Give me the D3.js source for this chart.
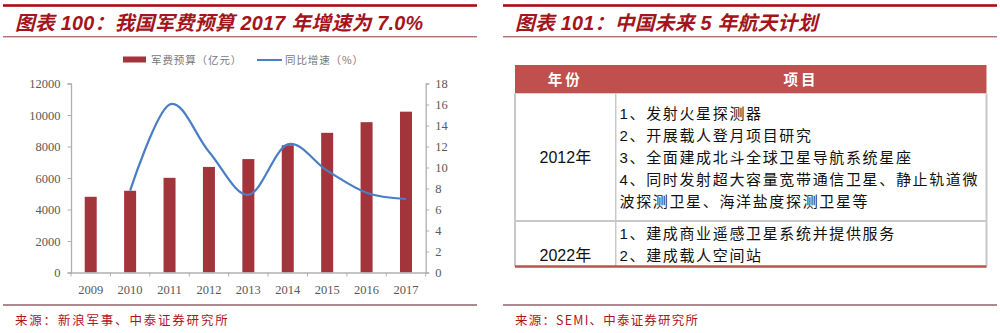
<!DOCTYPE html>
<html lang="zh-CN">
<head>
<meta charset="utf-8">
<script src="https://cdn.jsdelivr.net/npm/d3@7/dist/d3.min.js"></script>
<style>
  html, body { margin: 0; padding: 0; background: #fff; }
  svg { display: block; }
</style>
</head>
<body>
<svg id="page" width="1000" height="333" lang="zh-CN"></svg>
<script>
// ---- Data ----
const years = ["2009", "2010", "2011", "2012", "2013", "2014", "2015", "2016", "2017"];
const budget = [4807, 5190, 6011, 6703, 7202, 8082, 8869, 9544, 10211];      // 亿元
const growthYears = ["2010", "2011", "2012", "2013", "2014", "2015", "2016", "2017"];
const growth = [7.8, 16.0, 11.5, 7.4, 12.2, 9.7, 7.6, 7.0];                  // %
const leftTicks = [0, 2000, 4000, 6000, 8000, 10000, 12000];
const rightTicks = [0, 2, 4, 6, 8, 10, 12, 14, 16, 18];

const planYears = ["2012年", "2022年"];
const plan2012 = [
  "1、发射火星探测器",
  "2、开展载人登月项目研究",
  "3、全面建成北斗全球卫星导航系统星座",
  "4、同时发射超大容量宽带通信卫星、静止轨道微",
  "波探测卫星、海洋盐度探测卫星等"
];
const plan2022 = [
  "1、建成商业遥感卫星系统并提供服务",
  "2、建成载人空间站"
];
const tableHeader = ["年份", "项目"];

const titleLeft = "图表 100：我国军费预算 2017 年增速为 7.0%";
const titleRight = "图表 101：中国未来 5 年航天计划";
const sourceLeft = "来源：新浪军事、中泰证券研究所";
const sourceRight = "来源：SEMI、中泰证券研究所";

// ---- Styles ----
const RED_TITLE = "#A3141B";
const BAR = "#A4343C";
const LINE = "#4A7EC4";
const AXIS = "#B0B0B0";
const TICKTXT = "#595959";
const CJK = "'Noto Sans CJK SC', sans-serif";
const LATIN = "'Liberation Sans', sans-serif";
const SERIF = "'Liberation Serif', serif";

const svg = d3.select("#page");

// Writes mixed text: ASCII runs in a Latin face, the rest in the CJK face.
function mixed(sel, str) {
  const parts = str.match(/[\x20-\x7E]+|[^\x20-\x7E]+/g) || [];
  sel.selectAll("tspan").data(parts).join("tspan")
    .attr("font-family", d => /^[\x20-\x7E]+$/.test(d) ? LATIN : CJK)
    .text(d => d);
}

// ---- Panel frame: heavy top rule, title, thin rule, footer rule, source ----
function panelFrame(x0, x1, title, source, srcSpacing) {
  svg.append("rect").attr("x", x0).attr("y", 4.2).attr("width", x1 - x0).attr("height", 2.6)
    .attr("fill", "#B00A0F");
  svg.append("text").attr("x", x0 + 12).attr("y", 29.5)
    .attr("font-weight", "bold").attr("font-style", "italic")
    .attr("font-size", 19.8).attr("letter-spacing", 0.25).attr("fill", RED_TITLE)
    .call(mixed, title);
  svg.append("line").attr("x1", x0).attr("x2", x1).attr("y1", 36.8).attr("y2", 36.8)
    .attr("stroke", "#8E3A3A").attr("stroke-width", 1);
  svg.append("line").attr("x1", x0).attr("x2", x1).attr("y1", 305).attr("y2", 305)
    .attr("stroke", "#5A1620").attr("stroke-width", 1.2);
  svg.append("text").attr("x", x0 + 12).attr("y", 325)
    .attr("font-family", CJK).attr("font-size", 12.5).attr("letter-spacing", srcSpacing)
    .attr("fill", "#B0141C").text(source);
}
panelFrame(3, 477, titleLeft, sourceLeft, 1.8);
panelFrame(503, 997, titleRight, sourceRight, 1.2);

// ---- Left chart ----
const plot = { left: 71, right: 425.7, top: 83.5, bottom: 272.5 };
const x = d3.scaleBand().domain(years).range([plot.left, plot.right]).paddingInner(0).paddingOuter(0);
const yL = d3.scaleLinear().domain([0, 12000]).range([plot.bottom, plot.top]);
const yR = d3.scaleLinear().domain([0, 18]).range([plot.bottom, plot.top]);

const chart = svg.append("g");

// bars
const barW = 12;
chart.selectAll("rect.bar").data(years.map((yr, i) => ({ yr, v: budget[i] })))
  .join("rect").attr("class", "bar")
  .attr("x", d => x(d.yr) + x.bandwidth() / 2 - barW / 2)
  .attr("y", d => yL(d.v))
  .attr("width", barW)
  .attr("height", d => yL(0) - yL(d.v))
  .attr("fill", BAR);

// smoothed growth line
const lineGen = d3.line()
  .x(d => x(d.yr) + x.bandwidth() / 2)
  .y(d => yR(d.v))
  .curve(d3.curveCardinal.tension(0));
chart.append("path")
  .datum(growthYears.map((yr, i) => ({ yr, v: growth[i] })))
  .attr("d", lineGen)
  .attr("fill", "none").attr("stroke", LINE).attr("stroke-width", 2.2);

// left axis
const axL = chart.append("g").attr("transform", `translate(${plot.left},0)`)
  .call(d3.axisLeft(yL).tickValues(leftTicks).tickSize(3.5).tickPadding(7).tickFormat(d3.format("d")));
// right axis
const axR = chart.append("g").attr("transform", `translate(${plot.right},0)`)
  .call(d3.axisRight(yR).tickValues(rightTicks).tickSize(3.5).tickPadding(6));
// x axis: ticks at category boundaries
const axX = chart.append("g").attr("transform", `translate(0,${plot.bottom})`)
  .call(d3.axisBottom(x).tickSize(0).tickPadding(13));
const bounds = d3.range(years.length + 1).map(i => plot.left + i * x.bandwidth());
axX.selectAll("line.bound").data(bounds).join("line").attr("class", "bound")
  .attr("x1", d => d).attr("x2", d => d).attr("y1", 0).attr("y2", 4)
  .attr("stroke", AXIS);

[axL, axR, axX].forEach(g => {
  g.select(".domain").attr("stroke", AXIS).attr("stroke-width", 1.3);
  g.selectAll(".tick line").attr("stroke", AXIS);
  g.selectAll("text").attr("font-family", SERIF).attr("font-size", 12.5).attr("fill", TICKTXT);
});

// legend
const lg = chart.append("g");
lg.append("rect").attr("x", 123).attr("y", 56.5).attr("width", 23).attr("height", 6).attr("fill", BAR);
lg.append("text").attr("x", 151).attr("y", 64).attr("font-family", CJK).attr("font-size", 10.5)
  .attr("letter-spacing", 0.9).attr("fill", "#777").text("军费预算（亿元）");
lg.append("line").attr("x1", 257).attr("x2", 282).attr("y1", 60).attr("y2", 60)
  .attr("stroke", LINE).attr("stroke-width", 2);
lg.append("text").attr("x", 285).attr("y", 64).attr("font-family", CJK).attr("font-size", 10.5)
  .attr("letter-spacing", 0.9).attr("fill", "#777").text("同比增速（%）");

// ---- Right table ----
const T = { left: 515, right: 986.5, top: 65, head: 93.3, row1: 221, bottom: 266.5, col: 615.7 };
const tb = svg.append("g");
const HEAD = "#C0504D";
const GRID = "#C8C8C8";

tb.append("rect").attr("x", T.left).attr("y", T.top).attr("width", T.right - T.left)
  .attr("height", T.head - T.top).attr("fill", HEAD);
// grid lines
tb.append("line").attr("x1", T.left).attr("x2", T.left).attr("y1", T.head).attr("y2", T.bottom)
  .attr("stroke", GRID).attr("stroke-width", 2);
tb.append("line").attr("x1", T.right).attr("x2", T.right).attr("y1", T.head).attr("y2", T.bottom)
  .attr("stroke", GRID).attr("stroke-width", 2);
tb.append("line").attr("x1", T.col).attr("x2", T.col).attr("y1", T.head).attr("y2", T.bottom)
  .attr("stroke", GRID).attr("stroke-width", 1.5);
tb.append("line").attr("x1", T.left).attr("x2", T.right).attr("y1", T.row1).attr("y2", T.row1)
  .attr("stroke", GRID).attr("stroke-width", 2);
tb.append("line").attr("x1", T.left).attr("x2", T.right).attr("y1", T.bottom).attr("y2", T.bottom)
  .attr("stroke", HEAD).attr("stroke-width", 2.6);

// header text
const headX = [(T.left + T.col) / 2, (T.col + T.right) / 2];
tb.selectAll("text.head").data(tableHeader).join("text").attr("class", "head")
  .attr("x", (d, i) => headX[i]).attr("y", 84.5)
  .attr("text-anchor", "middle").attr("font-family", CJK).attr("font-weight", "bold")
  .attr("font-size", 14.5).attr("letter-spacing", 3).attr("fill", "#fff").text(d => d);

// year cells
const yearY = [162.5, 261];
tb.selectAll("text.yr").data(planYears).join("text").attr("class", "yr")
  .attr("x", headX[0]).attr("y", (d, i) => yearY[i])
  .attr("text-anchor", "middle").attr("font-size", 16)
  .attr("fill", "#111").each(function (d) { d3.select(this).call(mixed, d); });

// item lines
function items(lines, y0) {
  tb.append("g").selectAll("text").data(lines).join("text")
    .attr("x", 619.5).attr("y", (d, i) => y0 + i * 22.1)
    .attr("font-size", 15).attr("letter-spacing", 1.65)
    .attr("fill", "#111").each(function (d) { d3.select(this).call(mixed, d); });
}
items(plan2012, 118.8);
items(plan2022, 239.3);
</script>
</body>
</html>
